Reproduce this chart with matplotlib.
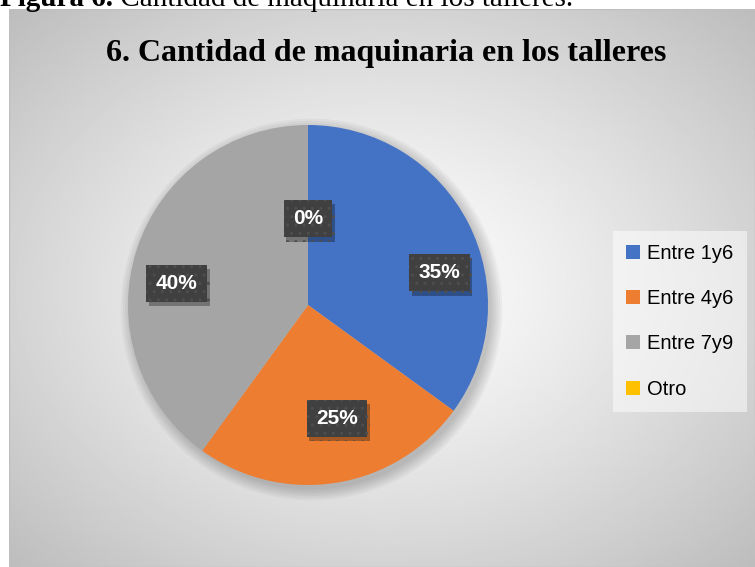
import numpy as np
import matplotlib
matplotlib.use("Agg")
import matplotlib.pyplot as plt
from matplotlib.patches import Patch, Circle, Rectangle
from matplotlib.text import Annotation
import matplotlib.patheffects as pe

# data
categorias = ["Entre 1y6", "Entre 4y6", "Entre 7y9", "Otro"]
valores = [0.35, 0.25, 0.40, 0.0]
colores = ["#4472C4", "#ED7D31", "#A5A5A5", "#FFC000"]
titulo = "6. Cantidad de maquinaria en los talleres"

# label spots (data coords of the pie axes), order = categorias
pos_etiquetas = [(0.73, 0.18), (0.16, -0.63), (-0.73, 0.12), (0.0, 0.48)]

W, H = 755, 567
fig = plt.figure(figsize=(W / 100, H / 100), dpi=100)
fig.patch.set_facecolor("white")

# caption above the chart (cut at the top like the original)
t1 = fig.text(0.0, 1 - 6 / H, "Figura 6.", family="Liberation Serif",
              weight="bold", fontsize=21, va="baseline", ha="left")
fig.add_artist(Annotation(" Cantidad de maquinaria en los talleres.",
                          xy=(1, 0), xycoords=t1, va="bottom", ha="left",
                          family="Liberation Serif", fontsize=21))

# chart area with radial gradient
x0, y0 = 9, 9
bg = fig.add_axes([x0 / W, 0, (W - x0) / W, (H - y0) / H])
gx, gy = np.meshgrid(np.linspace(-1, 1, 400), np.linspace(-1, 1, 300))
r = np.sqrt(gx ** 2 + gy ** 2) / np.sqrt(2)
shade = 1.0 - 0.26 * r ** 1.2
bg.imshow(shade, cmap="gray", vmin=0, vmax=1, aspect="auto", extent=[0, 1, 0, 1])
bg.set_xlim(0, 1)
bg.set_ylim(0, 1)
bg.axis("off")
bg.add_patch(Rectangle((0, 0), 1, 1, fill=False, ec="#BFBFBF", lw=1.0,
                       transform=bg.transAxes))

fig.text(386 / W, 1 - 53 / H, titulo, family="Liberation Serif", weight="bold",
         fontsize=23, ha="center", va="center", color="black")

# pie
cx, cy, rad = 308, 305, 180
ax = fig.add_axes([(cx - rad) / W, (H - cy - rad) / H, 2 * rad / W, 2 * rad / H])
ax.axis("off")

# soft shadow
for k in range(6):
    ax.add_patch(Circle((0.02, -0.025), 1.0 + 0.012 * k, color="black",
                        alpha=0.035, lw=0, zorder=0, clip_on=False))

ax.pie(valores, colors=colores, startangle=90, counterclock=False,
       radius=1.0, wedgeprops=dict(linewidth=0), frame=False)
ax.set_xlim(-1, 1)
ax.set_ylim(-1, 1)
ax.set_aspect("equal")

for (px, py), v in zip(pos_etiquetas, valores):
    t = ax.text(px, py, f"{v:.0%}", fontsize=15, weight="bold", family="Liberation Sans",
                ha="center", va="center", color="white", zorder=5,
                bbox=dict(boxstyle="square,pad=0.45", fc="#404040", ec="#4E4E4E",
                          lw=0, hatch=".."))
    t.get_bbox_patch().set_path_effects(
        [pe.SimplePatchShadow(offset=(2, -3), shadow_rgbFace="black", alpha=0.3),
         pe.Normal()])

# legend
handles = [Patch(facecolor=c, edgecolor="none") for c in colores]
leg = fig.legend(handles, categorias, loc="upper left",
                 bbox_to_anchor=(613 / W, 1 - 231 / H), borderaxespad=0,
                 prop=dict(family="Liberation Sans", size=14.5),
                 handlelength=0.7, handleheight=0.7, handletextpad=0.35,
                 labelspacing=1.3, borderpad=0.65, frameon=True, fancybox=False)
leg.get_frame().set_facecolor("white")
leg.get_frame().set_alpha(0.5)
leg.get_frame().set_edgecolor("none")

fig.savefig("out.png", dpi=100)
